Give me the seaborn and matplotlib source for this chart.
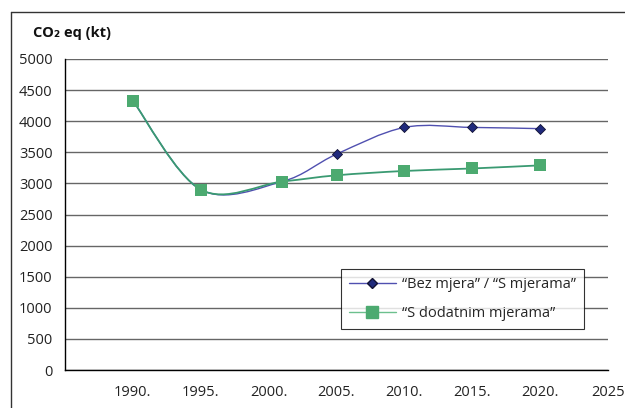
import numpy as np
import pandas as pd
import matplotlib
matplotlib.use("Agg")
import matplotlib.pyplot as plt
import seaborn as sns
from matplotlib.path import Path
from matplotlib.patches import PathPatch
from matplotlib.lines import Line2D

years_bez = [1990, 1995, 2001, 2005, 2010, 2015, 2020]
bez_mjera = [4330, 2900, 3030, 3470, 3900, 3900, 3880]
years_dod = [1990, 1995, 2001, 2005, 2010, 2015, 2020]
dodatne_mjere = [4330, 2900, 3030, 3130, 3200, 3240, 3290]

x_ticks = [1985, 1990, 1995, 2000, 2005, 2010, 2015, 2020, 2025]
x_labels = ["", "1990.", "1995.", "2000.", "2005.", "2010.", "2015.", "2020.", "2025"]
y_ticks = list(range(0, 5001, 500))

label_bez = "\u201cBez mjera\u201d / \u201cS mjerama\u201d"
label_dod = "\u201cS dodatnim mjerama\u201d"

BLUE_LINE = "#5050b0"
BLUE_MARK = "#202a7c"
GREEN_LINE = "#3a9a72"
GREEN_MARK = "#4caa70"


def smooth_path(xs, ys):
    # excel-like smoothed line: cubic bezier segments with catmull-rom tangents
    p = np.column_stack([xs, ys]).astype(float)
    n = len(p)
    verts = [p[0]]
    codes = [Path.MOVETO]
    for i in range(n - 1):
        p0 = p[i - 1] if i > 0 else p[i]
        p3 = p[i + 2] if i + 2 < n else p[i + 1]
        c1 = p[i] + (p[i + 1] - p0) / 6.0
        c2 = p[i + 1] - (p3 - p[i]) / 6.0
        verts += [c1, c2, p[i + 1]]
        codes += [Path.CURVE4] * 3
    return Path(verts, codes)


sns.set_style("white")
plt.rcParams["font.family"] = ["Open Sans", "DejaVu Sans"]

fig = plt.figure(figsize=(6.25, 4.08), dpi=100)
ax = fig.add_axes([65 / 625, 1 - 370 / 408, 543 / 625, 311 / 408])

ax.add_patch(PathPatch(smooth_path(years_bez, bez_mjera), fill=False,
                       edgecolor=BLUE_LINE, lw=1.0, zorder=3))
df_bez = pd.DataFrame({"year": years_bez, "value": bez_mjera})
sns.scatterplot(data=df_bez, x="year", y="value", ax=ax, marker="D", s=26,
                color=BLUE_MARK, edgecolor="#111133", linewidth=0.6, zorder=4)

ax.add_patch(PathPatch(smooth_path(years_dod, dodatne_mjere), fill=False,
                       edgecolor=GREEN_LINE, lw=1.3, zorder=5))
df_dod = pd.DataFrame({"year": years_dod, "value": dodatne_mjere})
sns.scatterplot(data=df_dod, x="year", y="value", ax=ax, marker="s", s=72,
                color=GREEN_MARK, edgecolor=GREEN_MARK, linewidth=0, zorder=6)

ax.set_xlim(1985, 2025)
ax.set_ylim(0, 5000)
ax.set_xticks(x_ticks)
ax.set_xticklabels(x_labels)
ax.set_yticks(y_ticks)
ax.set_yticklabels([str(v) for v in y_ticks])
ax.set_xlabel("")
ax.set_ylabel("")

ax.grid(axis="y", color="#666666", lw=1.0)
ax.grid(axis="x", visible=False)
ax.set_axisbelow(True)
for side in ["top", "right"]:
    ax.spines[side].set_visible(False)
for side in ["left", "bottom"]:
    ax.spines[side].set_color("black")
    ax.spines[side].set_linewidth(1.0)
ax.tick_params(axis="both", direction="out", length=5, width=1, color="black",
               labelsize=10.5, labelcolor="#222222")
ax.tick_params(axis="x", pad=6)
ax.tick_params(axis="y", pad=4)

handles = [
    Line2D([], [], color=BLUE_LINE, lw=1.0, marker="D", markersize=5,
           markerfacecolor=BLUE_MARK, markeredgecolor="#111133"),
    Line2D([], [], color="#6cc08e", lw=1.0, marker="s", markersize=8,
           markerfacecolor=GREEN_MARK, markeredgecolor=GREEN_MARK),
]
leg = ax.legend(handles, [label_bez, label_dod], loc="lower left",
                bbox_to_anchor=(0.495, 0.108), fontsize=10.5, frameon=True,
                fancybox=False, edgecolor="black", handlelength=3.2,
                borderpad=0.55, labelspacing=0.95, handletextpad=0.4)
leg.get_frame().set_linewidth(0.8)
leg.set_zorder(10)

fig.text(33 / 625, 1 - 33 / 408, "CO\u2082 eq (kt)", fontsize=10.5,
         fontweight="bold", va="center", ha="left", color="#111111")

fig.add_artist(Line2D([11 / 625, 11 / 625], [0, 1 - 12 / 408], color="#333333",
                      lw=1.0, transform=fig.transFigure))
fig.add_artist(Line2D([11 / 625, 1], [1 - 12 / 408, 1 - 12 / 408], color="#333333",
                      lw=1.0, transform=fig.transFigure))

fig.savefig("out.png", dpi=100)
